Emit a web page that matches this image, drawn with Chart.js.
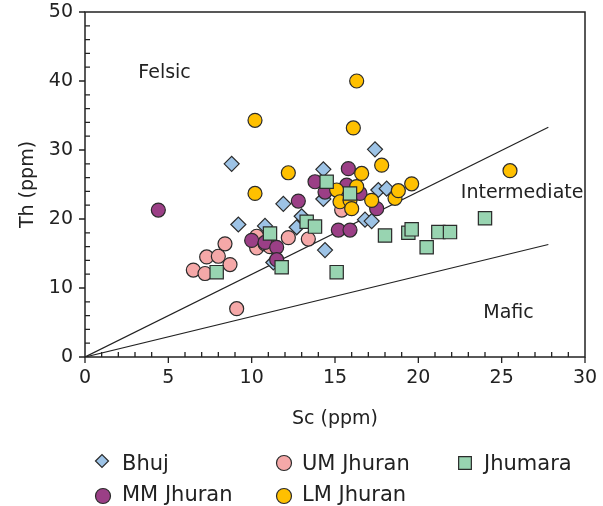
<!DOCTYPE html>
<html>
<head>
<meta charset="utf-8">
<script src="https://cdn.jsdelivr.net/npm/chart.js@4.4.1/dist/chart.umd.min.js"></script>
<style>
  html, body { margin: 0; padding: 0; background: #fff; }
  #wrap { position: relative; width: 603px; height: 506px; }
</style>
</head>
<body>
<div id="wrap"><canvas id="chart"></canvas></div>
<script>
// Th vs Sc data
const bhujSc = [8.8, 9.2, 10.8, 11.3, 11.9, 12.7, 13.0, 14.3, 14.3, 14.4, 16.8, 17.2, 17.4, 17.6, 18.1];
const bhujTh = [28.0, 19.2, 19.0, 13.7, 22.2, 18.8, 20.4, 27.2, 22.9, 15.5, 19.9, 19.7, 30.1, 24.2, 24.4];

const umSc = [6.5, 7.2, 7.3, 8.0, 8.4, 8.7, 9.1, 10.3, 10.3, 10.8, 11.1, 12.2, 13.4, 15.4];
const umTh = [12.6, 12.1, 14.5, 14.6, 16.4, 13.4, 7.0, 17.5, 15.8, 16.4, 16.0, 17.3, 17.1, 21.3];

const mmSc = [4.4, 10.0, 10.8, 11.5, 11.5, 12.8, 13.8, 14.4, 15.2, 15.7, 15.8, 15.9, 16.5, 17.5];
const mmTh = [21.3, 16.9, 16.6, 15.9, 14.1, 22.6, 25.4, 23.9, 18.4, 24.9, 27.3, 18.4, 23.7, 21.5];

const lmSc = [10.2, 10.2, 12.2, 15.1, 15.3, 15.9, 16.0, 16.1, 16.3, 16.3, 16.6, 17.2, 17.8, 18.6, 18.8, 19.6, 25.5];
const lmTh = [34.3, 23.7, 26.7, 24.2, 22.5, 22.7, 21.5, 33.2, 40.0, 24.7, 26.6, 22.7, 27.8, 23.0, 24.1, 25.1, 27.0];

const jhSc = [7.9, 11.1, 11.8, 13.3, 13.8, 14.5, 15.1, 15.9, 18.0, 19.4, 19.6, 20.5, 21.2, 21.9, 24.0];
const jhTh = [12.3, 17.9, 13.0, 19.6, 18.9, 25.4, 12.3, 23.7, 17.6, 18.0, 18.5, 15.9, 18.1, 18.1, 20.1];

// field boundary lines
const lineSc = [0, 27.8];
const upperTh = [0, 33.3];
const lowerTh = [0, 16.3];

const xTicks = [0, 5, 10, 15, 20, 25, 30];
const yTicks = [0, 10, 20, 30, 40, 50];

const FONT = '"DejaVu Sans", "Liberation Sans", Arial, sans-serif';
const INK = '#222';
const EDGE = '#2b2b2b';

const pts = (xs, ys) => xs.map((x, i) => ({ x: x, y: ys[i] }));

const series = [
  { label: 'Jhumara',   data: pts(jhSc, jhTh),   color: '#98d4b1', style: 'rect',    r: 9.4 },
  { label: 'LM Jhuran', data: pts(lmSc, lmTh),   color: '#ffc000', style: 'circle',  r: 7 },
  { label: 'MM Jhuran', data: pts(mmSc, mmTh),   color: '#9b3f86', style: 'circle',  r: 7 },
  { label: 'UM Jhuran', data: pts(umSc, umTh),   color: '#f5a8a8', style: 'circle',  r: 7 },
  { label: 'Bhuj',      data: pts(bhujSc, bhujTh), color: '#9dc3e6', style: 'rectRot', r: 7.5 }
];

const datasets = series.map(s => ({
  label: s.label,
  data: s.data,
  showLine: false,
  pointStyle: s.style,
  pointRadius: s.r,
  backgroundColor: s.color,
  borderColor: EDGE,
  borderWidth: 1.2
}));
datasets.push(
  { data: pts(lineSc, upperTh), showLine: true, borderColor: INK, borderWidth: 1.2, pointRadius: 0 },
  { data: pts(lineSc, lowerTh), showLine: true, borderColor: INK, borderWidth: 1.2, pointRadius: 0 }
);

// region names, placed in data units
const regions = [
  { text: 'Felsic', x: 3.2, y: 41.1 },
  { text: 'Intermediate', x: 22.55, y: 23.7 },
  { text: 'Mafic', x: 23.9, y: 6.3 }
];

// legend layout (pixels)
const legendItems = [
  { name: 'Bhuj', mx: 102, my: 461, tx: 122, ty: 465 },
  { name: 'UM Jhuran', mx: 284, my: 463, tx: 302, ty: 465 },
  { name: 'Jhumara', mx: 465, my: 463, tx: 484, ty: 465 },
  { name: 'MM Jhuran', mx: 103, my: 496, tx: 122, ty: 496 },
  { name: 'LM Jhuran', mx: 284, my: 496, tx: 302, ty: 496 }
];

const framePlugin = {
  id: 'frame',
  afterDraw(chart) {
    const { ctx, chartArea: a, scales } = chart;
    const xs = scales.x, ys = scales.y;
    ctx.save();
    ctx.strokeStyle = INK;
    ctx.lineWidth = 1.5;
    ctx.strokeRect(a.left, a.top, a.right - a.left, a.bottom - a.top);

    ctx.lineWidth = 1.3;
    ctx.beginPath();
    for (let v = 0; v <= 30; v++) {
      const px = xs.getPixelForValue(v);
      if (v % 5 === 0) { ctx.moveTo(px, a.bottom); ctx.lineTo(px, a.bottom + 6); }
      else { ctx.moveTo(px, a.bottom); ctx.lineTo(px, a.bottom - 5); }
    }
    for (let v = 0; v <= 50; v += 2) {
      const py = ys.getPixelForValue(v);
      if (v % 10 === 0) { ctx.moveTo(a.left, py); ctx.lineTo(a.left - 6, py); }
      else { ctx.moveTo(a.left, py); ctx.lineTo(a.left + 5, py); }
    }
    ctx.stroke();

    ctx.fillStyle = INK;
    ctx.font = '19px ' + FONT;
    ctx.textBaseline = 'middle';
    ctx.textAlign = 'left';
    regions.forEach(r => {
      ctx.fillText(r.text, xs.getPixelForValue(r.x), ys.getPixelForValue(r.y));
    });

    ctx.font = '21px ' + FONT;
    legendItems.forEach(item => {
      const s = series.find(d => d.label === item.name);
      ctx.fillStyle = s.color;
      ctx.strokeStyle = EDGE;
      ctx.lineWidth = 1.2;
      const rad = s.style === 'rect' ? 9 : (s.style === 'rectRot' ? 6.5 : 7.5);
      Chart.helpers.drawPoint(ctx, { pointStyle: s.style, radius: rad, borderWidth: 1.2 }, item.mx, item.my);
      ctx.fillStyle = INK;
      ctx.fillText(item.name, item.tx, item.ty);
    });
    ctx.restore();
  }
};

new Chart(document.getElementById('chart'), {
  type: 'scatter',
  data: { datasets: datasets },
  options: {
    responsive: true,
    maintainAspectRatio: false,
    animation: false,
    events: [],
    layout: { padding: { top: 12, right: 18, left: 0, bottom: 0 } },
    plugins: { legend: { display: false }, tooltip: { enabled: false } },
    scales: {
      x: {
        type: 'linear', min: 0, max: 30,
        afterBuildTicks: s => { s.ticks = xTicks.map(v => ({ value: v })); },
        afterFit: s => { s.height = 149; s.paddingLeft = 0; s.paddingRight = 0; },
        grid: { display: false, drawTicks: false },
        border: { display: false },
        ticks: { color: INK, font: { family: FONT, size: 19 }, padding: 10, maxRotation: 0 },
        title: { display: true, text: 'Sc (ppm)', color: INK, font: { family: FONT, size: 19 }, padding: { bottom: 76 } }
      },
      y: {
        type: 'linear', min: 0, max: 50,
        afterBuildTicks: s => { s.ticks = yTicks.map(v => ({ value: v })); },
        afterFit: s => { s.width = 85; s.paddingTop = 0; s.paddingBottom = 0; },
        grid: { display: false, drawTicks: false },
        border: { display: false },
        ticks: { color: INK, font: { family: FONT, size: 19 }, padding: 12 },
        title: { display: true, text: 'Th (ppm)', color: INK, font: { family: FONT, size: 19 }, padding: { top: 17 } }
      }
    }
  },
  plugins: [framePlugin]
});
</script>
</body>
</html>
